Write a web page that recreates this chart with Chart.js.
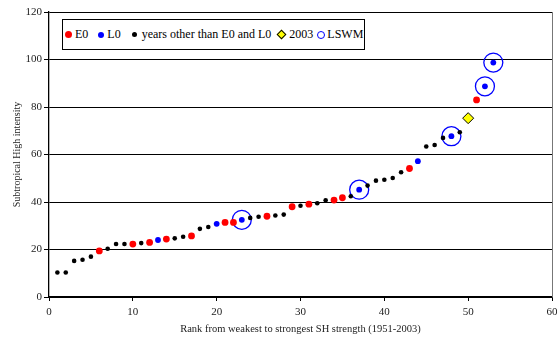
<!DOCTYPE html>
<html>
<head>
<meta charset="utf-8">
<script src="https://cdn.jsdelivr.net/npm/chart.js@4.4.1/dist/chart.umd.min.js"></script>
<style>
  html, body { margin: 0; padding: 0; background: #fff; }
  #wrap { position: relative; width: 557px; height: 338px; }
  #chart { display: block; }
  #legend {
    position: absolute; left: 62px; top: 19px; width: 303px; height: 31px;
    box-sizing: border-box; border: 1px solid #000; background: #fff;
    display: flex; align-items: center; white-space: nowrap;
    font: 12px "Liberation Serif", "Times New Roman", serif; color: #000;
  }
  #legend i { display: inline-block; flex: none; }
  .m-e0 { width: 7px; height: 7px; border-radius: 50%; background: #ff0000; margin: 0 3px 0 2px; }
  .m-l0 { width: 6px; height: 6px; border-radius: 50%; background: #0000ff; margin: 0 3px 0 10px; }
  .m-other { width: 5px; height: 5px; border-radius: 50%; background: #000; margin: 0 5px 0 11px; }
  .m-2003 { width: 5px; height: 5px; background: #ffff00; border: 1px solid #000; transform: rotate(45deg); margin: 0 4px 0 7px; }
  .m-lswm { width: 8px; height: 8px; border-radius: 50%; border: 1.3px solid #0000ff; box-sizing: border-box; margin: 0 2px 0 4px; }
</style>
</head>
<body>
<div id="wrap">
  <canvas id="chart" width="557" height="338"></canvas>
  <div id="legend">
    <i class="m-e0"></i><span>E0</span>
    <i class="m-l0"></i><span>L0</span>
    <i class="m-other"></i><span>years other than E0 and L0</span>
    <i class="m-2003"></i><span>2003</span>
    <i class="m-lswm"></i><span>LSWM</span>
  </div>
</div>
<script>
// rank (1 = weakest) and SH intensity, split by year type
const E0_RANK = [6, 10, 12, 14, 17, 21, 22, 26, 29, 31, 34, 35, 43, 51];
const E0_VALUE = [19.4, 22.3, 23.0, 24.4, 25.7, 31.4, 31.4, 34.0, 38.0, 39.1, 40.8, 41.8, 54.1, 83.0];

const L0_RANK = [13, 20, 23, 37, 44, 48, 52, 53];
const L0_VALUE = [24.0, 30.8, 32.5, 45.2, 57.2, 67.7, 88.7, 98.7];

const OTHER_RANK = [1, 2, 3, 4, 5, 7, 8, 9, 11, 15, 16, 18, 19, 24, 25, 27, 28, 30, 32, 33, 36, 38, 39, 40, 41, 42, 45, 46, 47, 49];
const OTHER_VALUE = [10.3, 10.3, 15.2, 15.7, 17.0, 20.3, 22.3, 22.3, 22.7, 24.7, 25.4, 28.7, 29.5, 33.3, 33.8, 34.3, 34.7, 38.4, 39.5, 40.7, 42.4, 46.9, 49.0, 49.4, 50.1, 52.5, 63.4, 64.0, 67.0, 69.4];

const Y2003_RANK = [50];
const Y2003_VALUE = [75.3];

const LSWM_RANK = [23, 37, 48, 52, 53];
const LSWM_VALUE = [32.5, 45.2, 67.7, 88.7, 98.7];

const X_TICKS = [0, 10, 20, 30, 40, 50, 60];
const Y_TICKS = [0, 20, 40, 60, 80, 100, 120];

const FONT = "'Liberation Serif', 'Times New Roman', serif";

function pairs(xs, ys) {
  return xs.map((x, i) => ({ x, y: ys[i] }));
}

const rightBorder = {
  id: "rightBorder",
  afterDraw(chart) {
    const { ctx, chartArea } = chart;
    ctx.save();
    ctx.strokeStyle = "#777";
    ctx.lineWidth = 1;
    ctx.beginPath();
    ctx.moveTo(Math.round(chartArea.right) + 0.5, chartArea.top);
    ctx.lineTo(Math.round(chartArea.right) + 0.5, chartArea.bottom);
    ctx.stroke();
    ctx.restore();
  },
};

const ctx = document.getElementById("chart").getContext("2d");
new Chart(ctx, {
  type: "scatter",
  data: {
    datasets: [
      {
        label: "years other than E0 and L0",
        data: pairs(OTHER_RANK, OTHER_VALUE),
        backgroundColor: "#000",
        borderWidth: 0,
        pointRadius: 2.3,
      },
      {
        label: "E0",
        data: pairs(E0_RANK, E0_VALUE),
        backgroundColor: "#ff0000",
        borderWidth: 0,
        pointRadius: 3.4,
      },
      {
        label: "L0",
        data: pairs(L0_RANK, L0_VALUE),
        backgroundColor: "#0000ff",
        borderWidth: 0,
        pointRadius: 2.9,
      },
      {
        label: "2003",
        data: pairs(Y2003_RANK, Y2003_VALUE),
        pointStyle: "rectRot",
        backgroundColor: "#ffff00",
        borderColor: "#000",
        borderWidth: 1,
        pointRadius: 5.5,
      },
      {
        label: "LSWM",
        data: pairs(LSWM_RANK, LSWM_VALUE),
        backgroundColor: "rgba(0,0,0,0)",
        borderColor: "#0000ff",
        borderWidth: 1.3,
        pointRadius: 9.5,
      },
    ],
  },
  options: {
    responsive: false,
    animation: false,
    devicePixelRatio: 1,
    layout: { autoPadding: false, padding: { top: 12, right: 5, left: 0, bottom: 0 } },
    plugins: {
      legend: { display: false },
      tooltip: { enabled: false },
    },
    scales: {
      x: {
        type: "linear",
        min: 0,
        max: 60,
        afterBuildTicks: (scale) => { scale.ticks = X_TICKS.map((v) => ({ value: v })); },
        afterFit: (scale) => {
          scale.height = 41;
          scale.paddingRight = 0;
          scale.paddingLeft = 0;
        },
        ticks: { color: "#222", padding: 5, font: { family: FONT, size: 11 } },
        grid: { drawOnChartArea: false, color: "#000", tickLength: 4 },
        border: { color: "#000", width: 1.3 },
        title: {
          display: true,
          text: "Rank from weakest to strongest SH strength (1951-2003)",
          color: "#222",
          font: { family: FONT, size: 10.5 },
          padding: { top: 0, bottom: 2 },
        },
      },
      y: {
        type: "linear",
        min: 0,
        max: 120,
        afterBuildTicks: (scale) => { scale.ticks = Y_TICKS.map((v) => ({ value: v })); },
        afterFit: (scale) => { scale.width = 49; },
        ticks: { color: "#222", padding: 2, font: { family: FONT, size: 11 } },
        grid: { color: "#000", lineWidth: 1, tickLength: 5 },
        border: { color: "#000", width: 1.3 },
        title: {
          display: true,
          text: "Subtropical High intensity",
          color: "#222",
          font: { family: FONT, size: 10 },
          padding: { top: 11, bottom: 0 },
        },
      },
    },
  },
  plugins: [rightBorder],
});
</script>
</body>
</html>
